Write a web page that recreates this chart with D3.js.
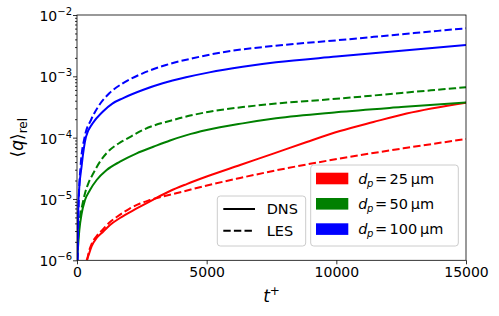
<!DOCTYPE html>
<html lang="en">
<head>
    <meta charset="utf-8">
    <title>q rel</title>
    <script type="text/javascript" src="https://d3js.org/d3.v7.min.js"></script>
    <style>
        body { margin: 0; background: #fff; }
        text { font-family: "DejaVu Sans", sans-serif; fill: #000; }
    </style>
</head>
<body>
    <div id="viz"></div>

    <script type="text/javascript">
        // time axis values (t+) and <q>_rel, one pair of arrays per curve
        const tRedDns = [370, 437, 566, 758, 1015, 1273, 1658, 2302, 2944, 3587, 4230, 5000, 6290, 7570, 8860, 10140, 11430, 12710, 15000];
        const qRedDns = [1e-6, 1.18e-6, 1.71e-6, 2.31e-6, 2.95e-6, 3.77e-6, 4.9e-6, 7.0e-6, 9.8e-6, 1.35e-5, 1.75e-5, 2.32e-5, 3.58e-5, 5.5e-5, 8.5e-5, 1.28e-4, 1.8e-4, 2.48e-4, 3.72e-4];
        const tRedLes = [390, 437, 566, 758, 1015, 1273, 1530, 2000, 2430, 2815, 4090, 5010, 6290, 7560, 10140, 12720, 15000];
        const qRedLes = [1e-6, 1.27e-6, 1.85e-6, 2.49e-6, 3.24e-6, 4.21e-6, 5.08e-6, 6.86e-6, 8.43e-6, 9.6e-6, 1.32e-5, 1.66e-5, 2.2e-5, 2.86e-5, 4.57e-5, 6.83e-5, 9.5e-5];

        const tGreenDns = [12, 90, 180, 309, 501, 758, 1144, 1658, 2302, 2944, 3587, 4230, 5000, 6390, 7675, 10000, 12500, 15000];
        const qGreenDns = [1.1e-6, 3.1e-6, 5.8e-6, 9.6e-6, 1.4e-5, 2.04e-5, 2.97e-5, 4.06e-5, 5.55e-5, 7.1e-5, 9.0e-5, 1.1e-4, 1.33e-4, 1.71e-4, 2.07e-4, 2.6e-4, 3.15e-4, 3.75e-4];
        const tGreenLes = [10, 51, 142, 219, 309, 437, 630, 887, 1144, 1658, 1890, 2534, 3818, 5102, 6390, 7675, 10000, 12500, 15000];
        const qGreenLes = [1e-6, 2.75e-6, 5.8e-6, 8.5e-6, 1.24e-5, 1.8e-5, 2.62e-5, 4.06e-5, 5.6e-5, 8.3e-5, 9.4e-5, 1.33e-4, 2.0e-4, 2.65e-4, 3.15e-4, 3.6e-4, 4.3e-4, 5.35e-4, 6.63e-4];

        const tBlueDns = [15, 60, 180, 347, 605, 991, 1377, 1762, 2534, 3305, 4204, 5102, 6390, 7675, 10000, 12500, 15000];
        const qBlueDns = [1e-6, 1e-5, 3.5e-5, 1.03e-4, 1.71e-4, 2.65e-4, 3.63e-4, 4.38e-4, 5.98e-4, 7.69e-4, 9.63e-4, 1.16e-3, 1.43e-3, 1.69e-3, 2.1e-3, 2.62e-3, 3.24e-3];
        const tBlueLes = [25, 70, 140, 290, 540, 860, 1246, 1762, 2534, 3432, 4462, 5746, 7547, 10000, 12500, 15000];
        const qBlueLes = [1e-6, 1e-5, 3.5e-5, 1e-4, 1.94e-4, 3.41e-4, 5.29e-4, 7.69e-4, 1.12e-3, 1.53e-3, 1.97e-3, 2.52e-3, 3.12e-3, 3.86e-3, 4.85e-3, 6.07e-3];

        const xTicks = [0, 5000, 10000, 15000];
        const yExponents = [-6, -5, -4, -3, -2];
        const sizeLabels = ["25", "50", "100"];
        const modelLabels = ["DNS", "LES"];

        const width = 499;
        const height = 316;
        const margin = {top: 15, right: 33, bottom: 55.7, left: 77};

        const svg = d3.select("#viz")
            .append("svg")
            .attr("width", width)
            .attr("height", height);

        const xScale = d3.scaleLinear()
            .domain([0, 15000])
            .range([margin.left, width - margin.right]);
        const yScale = d3.scaleLog()
            .domain([1e-6, 1e-2])
            .range([height - margin.bottom, margin.top]);

        const colors = ["#ff0000", "#008000", "#0000ff"];
        const series = [
            {t: tRedDns, q: qRedDns, color: colors[0], dashed: false},
            {t: tRedLes, q: qRedLes, color: colors[0], dashed: true},
            {t: tGreenDns, q: qGreenDns, color: colors[1], dashed: false},
            {t: tGreenLes, q: qGreenLes, color: colors[1], dashed: true},
            {t: tBlueDns, q: qBlueDns, color: colors[2], dashed: false},
            {t: tBlueLes, q: qBlueLes, color: colors[2], dashed: true}
        ];

        svg.append("clipPath")
            .attr("id", "plotclip")
          .append("rect")
            .attr("x", margin.left)
            .attr("y", margin.top)
            .attr("width", width - margin.left - margin.right)
            .attr("height", height - margin.top - margin.bottom);

        const line = d3.line()
            .x(d => xScale(d[0]))
            .y(d => yScale(d[1]))
            .curve(d3.curveMonotoneX);

        svg.append("g")
            .attr("clip-path", "url(#plotclip)")
          .selectAll("path")
            .data(series)
            .enter()
            .append("path")
                .attr("d", s => line(d3.zip(s.t, s.q)))
                .attr("fill", "none")
                .attr("stroke", s => s.color)
                .attr("stroke-width", 2)
                .attr("stroke-dasharray", s => s.dashed ? "7.4,3.2" : null);

        // x axis
        const xAxis = d3.axisBottom(xScale)
            .tickValues(xTicks)
            .tickSize(4)
            .tickPadding(3)
            .tickFormat(d3.format("d"));
        const gx = svg.append("g")
            .attr("transform", `translate(0,${height - margin.bottom})`)
            .call(xAxis);
        gx.select(".domain").remove();
        gx.selectAll("text").attr("font-size", 14).attr("font-family", "DejaVu Sans");

        // y axis, major + minor ticks
        const minorTicks = [];
        yExponents.slice(0, -1).forEach(e => {
            for (let k = 2; k <= 9; k++) minorTicks.push(k * Math.pow(10, e));
        });
        const gyMinor = svg.append("g")
            .attr("transform", `translate(${margin.left},0)`)
            .call(d3.axisLeft(yScale).tickValues(minorTicks).tickSize(2).tickFormat(""));
        gyMinor.select(".domain").remove();

        const gy = svg.append("g")
            .attr("transform", `translate(${margin.left},0)`)
            .call(d3.axisLeft(yScale).tickValues(yExponents.map(e => Math.pow(10, e))).tickSize(4).tickFormat(""));
        gy.select(".domain").remove();

        const yLabels = svg.append("g");
        yExponents.forEach(e => {
            const t = yLabels.append("text")
                .attr("x", margin.left - 5)
                .attr("y", yScale(Math.pow(10, e)) + 6)
                .attr("text-anchor", "end")
                .attr("font-size", 14);
            t.append("tspan").text("10");
            t.append("tspan").attr("dy", -6).attr("font-size", 10).text("\u2212" + Math.abs(e));
        });

        svg.selectAll(".tick line").attr("stroke", "#000").attr("stroke-width", 0.8);

        // frame
        svg.append("rect")
            .attr("x", margin.left)
            .attr("y", margin.top)
            .attr("width", width - margin.left - margin.right)
            .attr("height", height - margin.top - margin.bottom)
            .attr("fill", "none")
            .attr("stroke", "#000")
            .attr("stroke-width", 0.8);

        // axis labels
        const xl = svg.append("text")
            .attr("x", (margin.left + width - margin.right) / 2)
            .attr("y", 302)
            .attr("text-anchor", "middle")
            .attr("font-size", 17);
        xl.append("tspan").attr("font-style", "italic").text("t");
        xl.append("tspan").attr("dy", -7).attr("font-size", 12).text("+");

        const yl = svg.append("text")
            .attr("transform", `translate(23,${(margin.top + height - margin.bottom) / 2}) rotate(-90)`)
            .attr("text-anchor", "middle")
            .attr("font-size", 17);
        yl.append("tspan").text("\u27e8");
        yl.append("tspan").attr("font-style", "italic").text("q");
        yl.append("tspan").text("\u27e9");
        yl.append("tspan").attr("dy", 4).attr("font-size", 12).text("rel");

        // legend: line styles
        const leg1 = svg.append("g");
        leg1.append("rect")
            .attr("x", 217.3).attr("y", 196).attr("width", 88.4).attr("height", 50)
            .attr("rx", 3).attr("fill", "#fff").attr("fill-opacity", 0.8)
            .attr("stroke", "#cccccc").attr("stroke-width", 1);
        modelLabels.forEach((name, i) => {
            const yy = 209 + i * 21.7;
            leg1.append("line")
                .attr("x1", 223.3).attr("x2", 255).attr("y1", yy).attr("y2", yy)
                .attr("stroke", "#000").attr("stroke-width", 2)
                .attr("stroke-dasharray", i === 1 ? "7.4,3.2" : null);
            leg1.append("text")
                .attr("x", 266.7).attr("y", yy + 5)
                .attr("font-size", 14.5)
                .text(name);
        });

        // legend: particle sizes
        const leg2 = svg.append("g");
        leg2.append("rect")
            .attr("x", 310.7).attr("y", 165).attr("width", 147.6).attr("height", 81)
            .attr("rx", 3).attr("fill", "#fff").attr("fill-opacity", 0.8)
            .attr("stroke", "#cccccc").attr("stroke-width", 1);
        sizeLabels.forEach((d, i) => {
            const yc = 178.5 + i * 25.3;
            leg2.append("rect")
                .attr("x", 316).attr("y", yc - 5.8).attr("width", 32.3).attr("height", 11.6)
                .attr("fill", colors[i]);
            const tx = leg2.append("text")
                .attr("y", yc + 5)
                .attr("font-size", 14.5);
            tx.append("tspan").attr("x", 358.3).attr("font-style", "italic").text("d");
            tx.append("tspan").attr("x", 367).attr("dy", 3).attr("font-style", "italic").attr("font-size", 10).text("p");
            tx.append("tspan").attr("x", 375).attr("dy", -3).text("=");
            tx.append("tspan").attr("x", 389.5).text(d + "\u2009\u03bcm");
        });
    </script>
</body>
</html>
